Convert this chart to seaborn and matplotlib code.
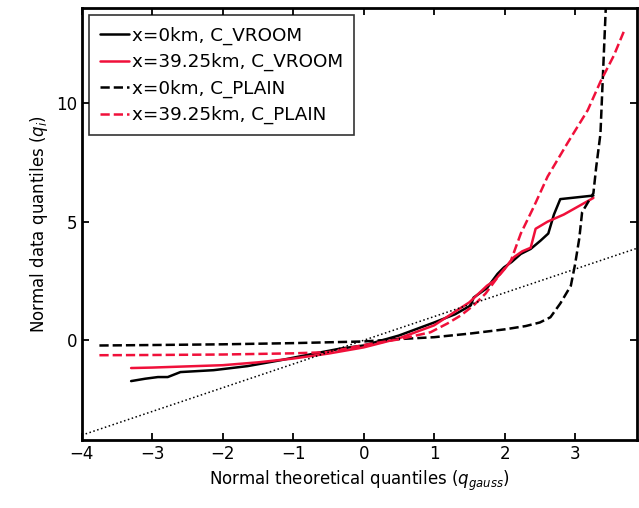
import matplotlib
matplotlib.use('Agg')
import matplotlib.pyplot as plt
import seaborn as sns
import pandas as pd

# QQ curves
vroom0_x = [-3.3, -3.1, -2.92, -2.78, -2.6, -2.13, -1.65, -1.18, -0.7, -0.33, 0.0, 0.5, 1.0, 1.3,
            1.52, 1.56, 1.75, 1.9, 1.99, 2.1, 2.23, 2.37, 2.51, 2.62, 2.7, 2.79, 3.26]
vroom0_y = [-1.72, -1.62, -1.55, -1.55, -1.34, -1.26, -1.09, -0.84, -0.56, -0.35, -0.22, 0.2, 0.75, 1.1,
            1.47, 1.8, 2.2, 2.8, 3.07, 3.3, 3.64, 3.85, 4.2, 4.5, 5.3, 5.95, 6.1]

vroom39_x = [-3.3, -3.0, -2.5, -2.0, -1.5, -1.0, -0.5, 0.0, 0.5, 1.0, 1.5, 1.75, 1.85, 2.0, 2.13,
             2.25, 2.37, 2.44, 2.61, 2.84, 3.05, 3.26]
vroom39_y = [-1.17, -1.15, -1.1, -1.05, -0.93, -0.77, -0.56, -0.3, 0.08, 0.63, 1.6, 2.3, 2.5, 3.0, 3.5,
             3.75, 3.9, 4.7, 5.0, 5.3, 5.65, 6.0]

plain0_x = [-3.75, -3.0, -2.0, -1.0, 0.0, 0.5, 1.0, 1.5, 2.0, 2.3, 2.5, 2.65, 2.79, 2.94, 3.0,
            3.06, 3.1, 3.26, 3.3, 3.36, 3.4, 3.45]
plain0_y = [-0.22, -0.2, -0.17, -0.12, -0.05, 0.05, 0.13, 0.28, 0.46, 0.6, 0.75, 0.97, 1.55, 2.3, 3.2,
            4.3, 5.4, 6.2, 7.3, 8.7, 11.5, 15.0]

plain39_x = [-3.75, -3.0, -2.0, -1.0, -0.5, 0.0, 0.5, 0.95, 1.19, 1.38, 1.56, 1.73, 1.9, 2.09, 2.23,
             2.41, 2.61, 2.89, 3.18, 3.36, 3.55, 3.69]
plain39_y = [-0.63, -0.62, -0.6, -0.55, -0.5, -0.2, 0.04, 0.34, 0.71, 1.05, 1.47, 1.97, 2.65, 3.36, 4.5,
             5.6, 6.9, 8.3, 9.7, 10.9, 12.0, 13.0]

ref_x = [-4.0, 4.0]

labels = ['x=0km, C_VROOM', 'x=39.25km, C_VROOM', 'x=0km, C_PLAIN', 'x=39.25km, C_PLAIN']

red = '#f0103a'

sns.set_style('ticks')
plt.rcParams['font.family'] = ['DejaVu Sans']
plt.rcParams['text.color'] = 'black'
plt.rcParams['axes.labelcolor'] = 'black'
plt.rcParams['xtick.color'] = 'black'
plt.rcParams['ytick.color'] = 'black'

fig = plt.figure(figsize=(6.39, 5.08), dpi=100)
ax = fig.add_axes([0.128, 0.134, 0.869, 0.85])

series = [
    (vroom0_x, vroom0_y, 'black', '-'),
    (vroom39_x, vroom39_y, red, '-'),
    (plain0_x, plain0_y, 'black', '--'),
    (plain39_x, plain39_y, red, '--'),
]
for (xs, ys, col, ls), lab in zip(series, labels):
    df = pd.DataFrame({'x': xs, 'y': ys})
    sns.lineplot(data=df, x='x', y='y', ax=ax, color=col, linestyle=ls, lw=1.8,
                 sort=False, estimator=None, label=lab)

# y = x reference line
sns.lineplot(x=ref_x, y=ref_x, ax=ax, color='black', linestyle=':', lw=1.1,
             sort=False, estimator=None, legend=False)

ax.set_xlim(-4, 3.88)
ax.set_ylim(-4.2, 14)
ax.set_xticks([-4, -3, -2, -1, 0, 1, 2, 3])
ax.set_yticks([0, 5, 10])
ax.tick_params(direction='in', top=True, right=True, length=5, width=1.3, labelsize=12)
for sp in ax.spines.values():
    sp.set_linewidth(2)
    sp.set_color('black')

ax.set_xlabel('Normal theoretical quantiles ($q_{gauss}$)', fontsize=12)
ax.set_ylabel('Normal data quantiles ($q_i$)', fontsize=12)

leg = ax.legend(loc='upper left', fontsize=13.2, frameon=True, fancybox=False,
                edgecolor='black', handlelength=1.55, handletextpad=0.2,
                borderaxespad=0.4, labelspacing=0.45, borderpad=0.6)
leg.get_frame().set_linewidth(1.2)

fig.savefig('out.png', dpi=100)
